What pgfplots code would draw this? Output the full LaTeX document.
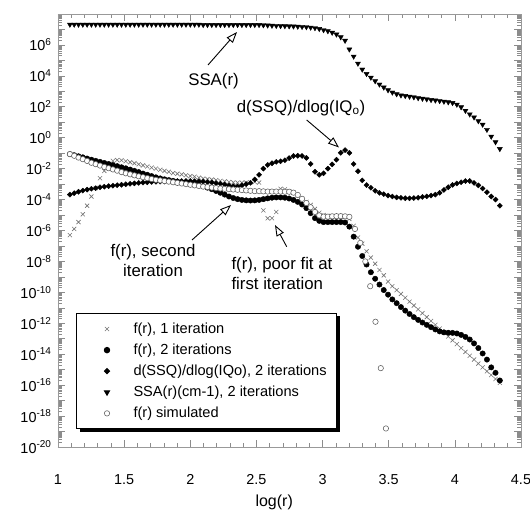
\documentclass[border=0pt]{standalone}
\usepackage{fontspec}
\setmainfont{Liberation Sans}
\usepackage{pgfplots}
\pgfplotsset{compat=1.18}
\usepackage{pgfplotstable}
\usetikzlibrary{arrows.meta,shadows}

% x = log(r); ssa, dssq, fone (1 iteration), ftwo (2 iterations)
\pgfplotstableread{
x      ssa     dssq     fone     ftwo
1.090  2.1e7   2.1e-4   5.0e-7   8.7e-2
1.1225 2.1e7   2.6e-4   1.26e-6  7.4e-2
1.155  2.1e7   3.2e-4   3.5e-6   6.3e-2
1.1875 2.1e7   3.8e-4   1.12e-5  5.4e-2
1.220  2.1e7   4.4e-4   4.0e-5   4.5e-2
1.2525 2.1e7   5.0e-4   1.58e-4  3.8e-2
1.285  2.1e7   5.5e-4   5.6e-4   3.2e-2
1.3175 2.1e7   6.2e-4   2.4e-3   2.75e-2
1.350  2.1e7   6.8e-4   7.1e-3   2.34e-2
1.3825 2.1e7   7.4e-4   1.9e-2   2.0e-2
1.415  2.1e7   7.9e-4   3.2e-2   1.7e-2
1.4475 2.1e7   8.5e-4   3.6e-2   1.45e-2
1.480  2.1e7   9.1e-4   3.5e-2   1.23e-2
1.5125 2.1e7   9.8e-4   3.0e-2   1.05e-2
1.545  2.1e7   1.05e-3  2.6e-2   8.7e-3
1.5775 2.1e7   1.12e-3  2.24e-2  7.2e-3
1.610  2.1e7   1.2e-3   1.9e-2   6.0e-3
1.6425 2.1e7   1.26e-3  1.62e-2  4.8e-3
1.675  2.1e7   1.32e-3  1.38e-2  4.0e-3
1.7075 2.1e7   1.38e-3  1.17e-2  3.3e-3
1.740  2.1e7   1.41e-3  1.0e-2   2.75e-3
1.7725 2.1e7   1.45e-3  8.5e-3   2.34e-3
1.805  2.1e7   1.48e-3  7.2e-3   2.04e-3
1.8375 2.1e7   1.51e-3  6.2e-3   1.82e-3
1.870  2.1e7   1.55e-3  5.2e-3   1.62e-3
1.9025 2.1e7   1.58e-3  4.7e-3   1.45e-3
1.935  2.1e7   1.58e-3  4.2e-3   1.32e-3
1.9675 2.1e7   1.58e-3  3.7e-3   1.2e-3
2.000  2.1e7   1.58e-3  3.3e-3   1.1e-3
2.0325 2.1e7   1.55e-3  3.0e-3   9.8e-4
2.065  2.1e7   1.51e-3  2.6e-3   8.5e-4
2.0975 2.0e7   1.45e-3  2.3e-3   7.2e-4
2.130  2.0e7   1.35e-3  2.1e-3   5.9e-4
2.1625 2.0e7   1.26e-3  1.95e-3  4.7e-4
2.195  2.0e7   1.15e-3  1.78e-3  3.6e-4
2.2275 2.0e7   1.05e-3  1.62e-3  2.75e-4
2.260  2.0e7   9.3e-4   1.48e-3  2.1e-4
2.2925 2.0e7   8.3e-4   1.38e-3  1.58e-4
2.325  2.0e7   7.4e-4   1.29e-3  1.26e-4
2.3575 2.0e7   7.1e-4   1.23e-3  1.07e-4
2.390  2.0e7   8.3e-4   1.23e-3  9.5e-5
2.4225 2.0e7   1.0e-3   1.26e-3  8.9e-5
2.455  2.0e7   1.2e-3   1.32e-3  8.7e-5
2.4875 2.0e7   2.0e-3   1.38e-3  8.9e-5
2.520  2.0e7   4.0e-3   1.26e-3  9.5e-5
2.5525 1.9e7   1.0e-2   2.0e-5   1.07e-4
2.585  1.85e7  1.74e-2  6.2e-6   1.2e-4
2.6175 1.8e7   2.24e-2  6.2e-6   1.32e-4
2.650  1.75e7  2.75e-2  1.58e-5  1.38e-4
2.6825 1.7e7   3.0e-2   5.0e-4   1.38e-4
2.715  1.67e7  3.5e-2   4.6e-4   1.32e-4
2.7475 1.63e7  4.8e-2   3.5e-4   1.17e-4
2.780  1.6e7   6.6e-2   2.8e-4   9.5e-5
2.8125 1.55e7  6.8e-2   1.78e-4  7.1e-5
2.845  1.5e7   6.6e-2   1.12e-4  4.8e-5
2.8775 1.45e7  5.0e-2   7.1e-5   2.8e-5
2.910  1.35e7  2.0e-2   4.5e-5   1.32e-5
2.9425 1.25e7  6.3e-3   2.5e-5   6.3e-6
2.975  1.1e7   4.0e-3   1.41e-5  4.2e-6
3.0075 9.3e6   5.0e-3   1.0e-5   3.5e-6
3.040  7.9e6   1.0e-2   8.9e-6   3.5e-6
3.0725 6.3e6   1.9e-2   8.5e-6   3.5e-6
3.105  4.8e6   3.8e-2   8.3e-6   3.5e-6
3.1375 3.2e6   0.107    7.9e-6   3.5e-6
3.170  1.9e6   0.158    7.4e-6   3.3e-6
3.2025 5.2e5   0.105    5.6e-6   1.78e-6
3.235  1.8e5   2.0e-2   2.0e-6   4.0e-7
3.2675 6.3e4   6.8e-3   3.5e-7   8.9e-8
3.300  2.6e4   1.74e-3  1.41e-7  2.24e-8
3.3325 1.35e4  8.7e-4   4.5e-8   6.3e-9
3.365  7.8e3   5.8e-4   1.78e-8  2.0e-9
3.3975 4.6e3   3.7e-4   7.1e-9   7.6e-10
3.430  2.8e3   2.75e-4  2.8e-9   3.2e-10
3.4625 1.8e3   2.24e-4  1.26e-9  1.41e-10
3.495  1.2e3   1.82e-4  5.0e-10  7.1e-11
3.5275 8.5e2   1.58e-4  2.5e-10  3.5e-11
3.560  6.6e2   1.38e-4  1.41e-10 2.0e-11
3.5925 5.6e2   1.29e-4  7.9e-11  1.12e-11
3.625  5.1e2   1.23e-4  4.5e-11  6.6e-12
3.6575 4.6e2   1.2e-4   2.5e-11  4.0e-12
3.690  4.2e2   1.26e-4  1.41e-11 2.5e-12
3.7225 3.7e2   1.32e-4  7.9e-12  1.66e-12
3.755  3.4e2   1.48e-4  4.5e-12  1.12e-12
3.7875 3.1e2   1.62e-4  2.5e-12  7.9e-13
3.820  2.8e2   1.82e-4  1.41e-12 5.6e-13
3.8525 2.6e2   2.1e-4   7.9e-13  4.0e-13
3.885  2.4e2   2.75e-4  4.5e-13  3.0e-13
3.9175 2.2e2   4.2e-4   2.5e-13  2.6e-13
3.950  2.0e2   6.3e-4   1.41e-13 2.45e-13
3.9825 1.8e2   8.9e-4   7.9e-14  2.4e-13
4.015  1.4e2   1.1e-3   4.5e-14  2.2e-13
4.0475 9.5e1   1.32e-3  2.5e-14  1.78e-13
4.080  5.6e1   1.58e-3  1.41e-14 1.32e-13
4.1125 3.3e1   1.58e-3  7.9e-15  8.9e-14
4.145  2.1e1   1.2e-3   4.5e-15  5.0e-14
4.1775 1.2e1   8.3e-4   2.5e-15  2.5e-14
4.210  7.1     5.2e-4   1.41e-15 1.12e-14
4.2425 3.3     3.0e-4   7.9e-16  4.5e-15
4.275  1.2     1.58e-4  4.5e-16  1.41e-15
4.3075 0.52    1.0e-4   2.5e-16  6.3e-16
4.340  0.19    4.0e-5   1.41e-16 2.0e-16
}\datamain

% f(r) simulated
\pgfplotstableread{
x      fsim
1.090  8.7e-2
1.1225 6.8e-2
1.155  5.2e-2
1.1875 4.1e-2
1.220  3.16e-2
1.2525 2.4e-2
1.285  1.95e-2
1.3175 1.58e-2
1.350  1.29e-2
1.3825 1.07e-2
1.415  8.9e-3
1.4475 7.4e-3
1.480  6.0e-3
1.5125 5.0e-3
1.545  4.3e-3
1.5775 3.7e-3
1.610  3.2e-3
1.6425 2.8e-3
1.675  2.45e-3
1.7075 2.14e-3
1.740  1.9e-3
1.7725 1.74e-3
1.805  1.58e-3
1.8375 1.45e-3
1.870  1.32e-3
1.9025 1.2e-3
1.935  1.1e-3
1.9675 1.0e-3
2.000  9.1e-4
2.0325 8.3e-4
2.065  7.6e-4
2.0975 6.9e-4
2.130  6.5e-4
2.1625 6.0e-4
2.195  5.6e-4
2.2275 5.2e-4
2.260  4.9e-4
2.2925 4.7e-4
2.325  4.5e-4
2.3575 4.3e-4
2.390  4.1e-4
2.4225 3.9e-4
2.455  3.7e-4
2.4875 3.5e-4
2.520  3.5e-4
2.5525 3.4e-4
2.585  3.3e-4
2.6175 3.3e-4
2.650  3.3e-4
2.6825 3.3e-4
2.715  3.2e-4
2.7475 3.2e-4
2.780  2.8e-4
2.8125 2.0e-4
2.845  1.12e-4
2.8775 6.0e-5
2.910  3.2e-5
2.9425 1.58e-5
2.975  9.5e-6
3.0075 7.9e-6
3.040  7.9e-6
3.0725 8.3e-6
3.105  8.5e-6
3.1375 8.5e-6
3.170  8.3e-6
3.2025 7.6e-6
3.245  1.26e-6
3.285  1.58e-7
3.323  1.0e-8
3.360  2.5e-10
3.400  1.26e-12
3.440  1.26e-15
3.479  1.58e-19
}\datasim

\begin{document}
\begin{tikzpicture}
\path[use as bounding box] (-58pt,-65pt) rectangle (472pt,447pt);
\begin{axis}[
  at={(0pt,0pt)}, anchor=south west,
  scale only axis, width=463pt, height=433pt,
  xmin=1, xmax=4.5, ymode=log, ymin=1e-20, ymax=1e8,
  xtick={1,1.5,2,2.5,3,3.5,4,4.5}, minor x tick num=4,
  ytick={1e-20,1e-19,1e-18,1e-17,1e-16,1e-15,1e-14,1e-13,1e-12,1e-11,1e-10,1e-9,1e-8,1e-7,1e-6,1e-5,1e-4,1e-3,1e-2,1e-1,1,1e1,1e2,1e3,1e4,1e5,1e6,1e7,1e8},
  yticklabels={10\textsuperscript{-20},,10\textsuperscript{-18},,10\textsuperscript{-16},,10\textsuperscript{-14},,10\textsuperscript{-12},,10\textsuperscript{-10},,10\textsuperscript{-8},,10\textsuperscript{-6},,10\textsuperscript{-4},,10\textsuperscript{-2},,10\textsuperscript{0},,10\textsuperscript{2},,10\textsuperscript{4},,10\textsuperscript{6},,},
  tick align=inside, major tick length=7pt, minor tick length=4pt,
  axis line style={black!40, line width=0.8pt},
  tick style={black!45, line width=0.6pt},
  tick label style={font=\fontsize{14.4}{17}\selectfont},
  /pgf/number format/assume math mode=true,
  xticklabel style={yshift=-24pt},
  yticklabel style={xshift=-3pt},
  xlabel={log(r)},
  xlabel style={at={(rel axis cs:0.467,0)}, anchor=center, yshift=-55pt, font=\fontsize{16}{19}\selectfont},
  legend image code/.code={\path (-22pt,0pt) (8pt,0pt); \draw[#1] plot coordinates {(0pt,0pt)};},
  legend cell align=left,
  legend style={at={(rel axis cs:0.0389,0.3095)}, anchor=north west,
    draw=black, line width=1pt, fill=white,
    drop shadow={shadow xshift=3pt, shadow yshift=-3pt, fill=black, opacity=1},
    inner xsep=8pt, inner ysep=7.5pt, row sep=5pt,
    font=\fontsize{14.6}{17}\selectfont,
    nodes={inner sep=2pt},
    /tikz/every odd column/.append style={column sep=16pt}},
]
\addplot[only marks, mark=x, mark size=2.9pt, draw=black!55, mark options={line width=0.6pt}]
  table[x=x, y=fone] {\datamain};
\addlegendentry{f(r), 1 iteration}
\addplot[only marks, mark=*, mark size=2.7pt, black]
  table[x=x, y=ftwo] {\datamain};
\addlegendentry{f(r), 2 iterations}
\addplot[only marks, mark=square*, mark size=1.8pt, black, mark options={rotate=45}]
  table[x=x, y=dssq] {\datamain};
\addlegendentry{d(SSQ)/dlog(IQo), 2 iterations}
\addplot[only marks, mark=triangle*, mark size=2.9pt, black, mark options={rotate=180}]
  table[x=x, y=ssa] {\datamain};
\addlegendentry{SSA(r)(cm-1), 2 iterations}
\addplot[only marks, mark=*, mark size=2.7pt, mark options={fill=white, draw=black!60, line width=0.6pt}]
  table[x=x, y=fsim] {\datasim};
\addlegendentry{f(r) simulated}
\end{axis}

\begin{scope}[font=\fontsize{16.8}{20}\selectfont]
\tikzset{callout/.style={line width=0.9pt, -{Triangle[length=11pt, width=8pt, fill=white]}}}
\node at (155.5pt,366.3pt) {SSA(r)};
\draw[callout] (150pt,382pt) -- (179pt,415pt);
\node at (243pt,339pt) {d(SSQ)/dlog(IQ\textsubscript{o})};
\draw[callout] (248.7pt,327pt) -- (281pt,299.5pt);
\node[align=center] at (95pt,187pt) {f(r), second\\iteration};
\draw[callout] (134pt,207pt) -- (173pt,242pt);
\node[align=left, anchor=west] at (170pt,174pt) {f(r), poor fit at\\first iteration};
\draw[callout] (228.7pt,200.3pt) -- (217pt,222pt);
\end{scope}
\end{tikzpicture}
\end{document}
